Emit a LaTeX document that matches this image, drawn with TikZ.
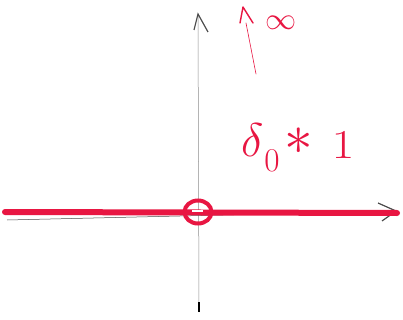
\documentclass[tikz,border=0pt]{standalone}
\usepackage{fontspec}
\usetikzlibrary{shapes.geometric}
\begin{document}
\begin{tikzpicture}[x=1pt,y=-1pt,
  ax/.style={draw=black!70,line width=0.5pt},
  pen/.style={draw=penred,line width=1.4pt,line cap=round,line join=round},
  lbl/.style={text=penred,inner sep=0pt,font=\fontsize{24.88}{26}\selectfont}]
\definecolor{penred}{RGB}{232,22,66}
\useasboundingbox (0,0) rectangle (403,320);
\fill[white] (0,0) rectangle (403,320);
% axes
\coordinate (vb) at (199,312);
\coordinate (vt) at (198,14);
\draw[ax,draw=black!45] (vb) -- (vt);
\draw[draw=black,line width=2.2pt] (199,302) -- (vb);
\draw[ax,line width=1.2pt] (194,30) -- (vt) -- (208,32);
\coordinate (hl) at (7,220);
\coordinate (hr) at (396,211);
\draw[ax] (hl) -- (hr);
\draw[ax,line width=1.2pt] (378,203) -- (hr) -- (382,221);
% red line
\coordinate (rl) at (5,212);
\coordinate (rr) at (397,213);
\draw[pen,line width=6pt] (rl) -- (rr);
\node[draw=penred,line width=4pt,ellipse,minimum width=27pt,minimum height=23pt,inner sep=0pt] (o) at (198,212) {};
\draw[white,line width=1.5pt] (192,211) -- (203,211);
% arrow up to infinity
\coordinate (as) at (256,74);
\coordinate (at) at (243,7);
\draw[pen,line width=0.6pt] (as) -- (246,23);
\draw[pen] (240,23) -- (at) -- (253,23);
\node[lbl] (inf) at (281,23) {\scalebox{1.25}{$\infty$}};
% label
\node[lbl,anchor=base west] (d) at (241,157) {\scalebox{1.9}{$\delta$}\hspace{1pt}\raisebox{-15pt}{\scalebox{1.6}{$\scriptstyle 0$}}};
\node[lbl] (st) at (299,141) {\scalebox{2.3}{$*$}};
\node[lbl,anchor=base] (one) at (343,158) {\scalebox{2.0}[1.65]{$1$}};
\end{tikzpicture}
\end{document}
